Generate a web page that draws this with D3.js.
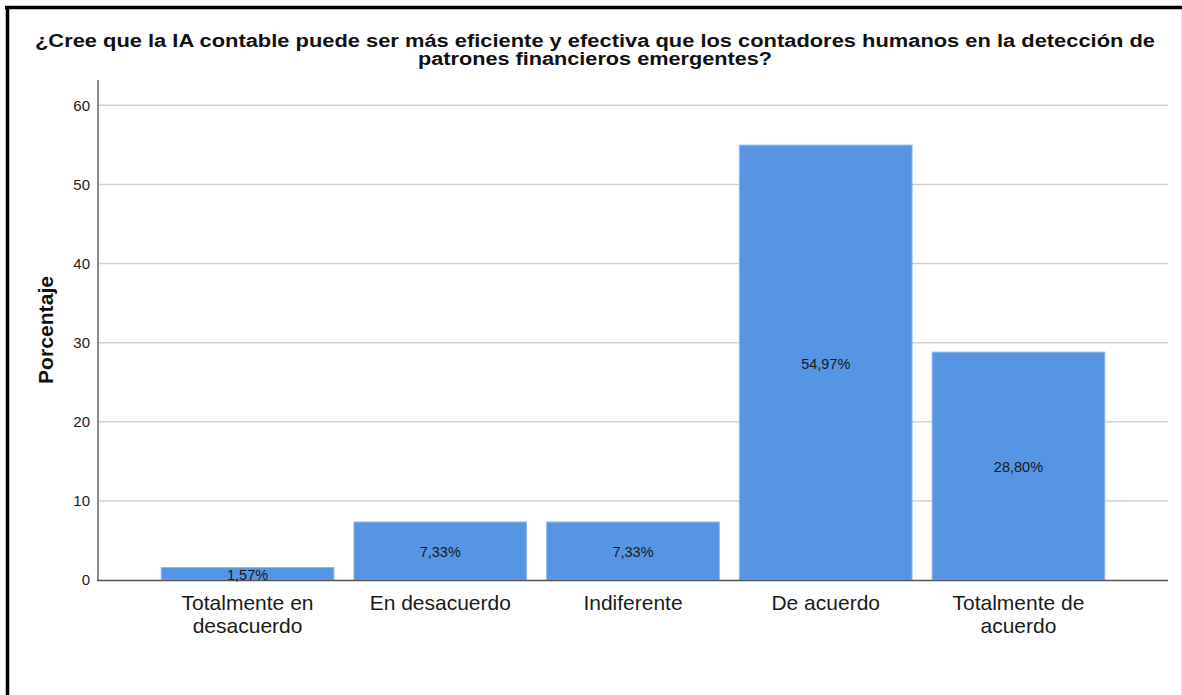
<!DOCTYPE html>
<html><head><meta charset="utf-8">
<script src="https://cdn.jsdelivr.net/npm/d3@7"></script>
<style>
html,body{margin:0;padding:0;background:#fff;}
svg{display:block;font-family:"Liberation Sans",Arial,sans-serif;}
</style></head>
<body>
<svg id="chart" width="1182" height="695"></svg>
<script>
const categories = [["Totalmente en","desacuerdo"],["En desacuerdo"],["Indiferente"],["De acuerdo"],["Totalmente de","acuerdo"]];
const values = [1.57, 7.33, 7.33, 54.97, 28.80];
const valueLabels = ["1,57%","7,33%","7,33%","54,97%","28,80%"];
const yTicks = [0,10,20,30,40,50,60];
const titleLines = ["¿Cree que la IA contable puede ser más eficiente y efectiva que los contadores humanos en la detección de","patrones financieros emergentes?"];
const yLabel = "Porcentaje";

(function(){
const svg = d3.select("#chart");
// frame
svg.append("rect").attr("x",0).attr("y",0).attr("width",1182).attr("height",695).attr("fill","#fff");
svg.append("line").attr("x1",1181.5).attr("x2",1181.5).attr("y1",8).attr("y2",695).attr("stroke","#e6e6e6").attr("stroke-width",1);
svg.append("line").attr("x1",5).attr("x2",1182).attr("y1",7.5).attr("y2",7.5).attr("stroke","#000").attr("stroke-width",3.5);
svg.append("line").attr("x1",7.5).attr("x2",7.5).attr("y1",6).attr("y2",695).attr("stroke","#000").attr("stroke-width",3.5);

const pL = 98, pR = 1168, pT = 80, pB = 580;
const y = d3.scaleLinear().domain([0, 63.2]).range([pB, pT]);
const idx = d3.range(values.length);
const x = d3.scaleBand().domain(idx).range([pL, pR]).paddingInner(0.104).paddingOuter(0.328);

// gridlines
svg.append("g").selectAll("line").data(yTicks.filter(d=>d>0)).join("line")
  .attr("x1",pL).attr("x2",pR).attr("y1",d=>y(d)).attr("y2",d=>y(d))
  .attr("stroke","#d2d2d2").attr("stroke-width",1.5);

// y axis
const yAxis = d3.axisLeft(y).tickValues(yTicks).tickSize(0).tickPadding(8).tickFormat(d3.format("d"));
const gy = svg.append("g").attr("transform",`translate(${pL},0)`).call(yAxis);
gy.select(".domain").remove();
gy.selectAll("text").attr("font-size",15).attr("fill","#222").attr("font-family","Liberation Sans, Arial, sans-serif");
svg.append("line").attr("x1",pL).attr("x2",pL).attr("y1",pT).attr("y2",pB).attr("stroke","#8e8e8e").attr("stroke-width",2);

// bars
svg.append("g").selectAll("rect").data(idx).join("rect")
  .attr("x",i=>x(i)).attr("width",x.bandwidth())
  .attr("y",i=>y(values[i])).attr("height",i=>pB-y(values[i]))
  .attr("fill","#5595e3").attr("stroke","#8cb8ef").attr("stroke-width",1);

// x axis line
svg.append("line").attr("x1",pL-1).attr("x2",pR).attr("y1",pB+0.5).attr("y2",pB+0.5).attr("stroke","#555").attr("stroke-width",1.5);

// value labels
svg.append("g").selectAll("text").data(idx).join("text")
  .attr("x",i=>x(i)+x.bandwidth()/2).attr("y",i=>y(values[i]/2)+6)
  .attr("text-anchor","middle").attr("font-size",14.5).attr("fill","#1a1a1a")
  .text(i=>valueLabels[i]);

// x labels
const xg = svg.append("g").selectAll("text").data(idx).join("text")
  .attr("text-anchor","middle").attr("font-size",21).attr("fill","#1a1a1a");
xg.each(function(i){
  const t = d3.select(this);
  categories[i].forEach((ln,k)=>{
    t.append("tspan").attr("x",x(i)+x.bandwidth()/2).attr("y",610+k*22.5).text(ln);
  });
});

// title
const titleWidths = [1120, 354];
svg.append("g").selectAll("text").data(titleLines).join("text")
  .attr("x",595).attr("y",(d,k)=>47+k*18).attr("text-anchor","middle")
  .attr("font-size",17.5).attr("font-weight","bold").attr("fill","#111")
  .attr("textLength",(d,k)=>titleWidths[k]).attr("lengthAdjust","spacingAndGlyphs")
  .text(d=>d);

// y label
svg.append("text").attr("transform","translate(53,330) rotate(-90)")
  .attr("text-anchor","middle").attr("font-size",21).attr("font-weight","bold").attr("fill","#111")
  .attr("textLength",108).attr("lengthAdjust","spacingAndGlyphs").text(yLabel);
})();
</script>
</body></html>
